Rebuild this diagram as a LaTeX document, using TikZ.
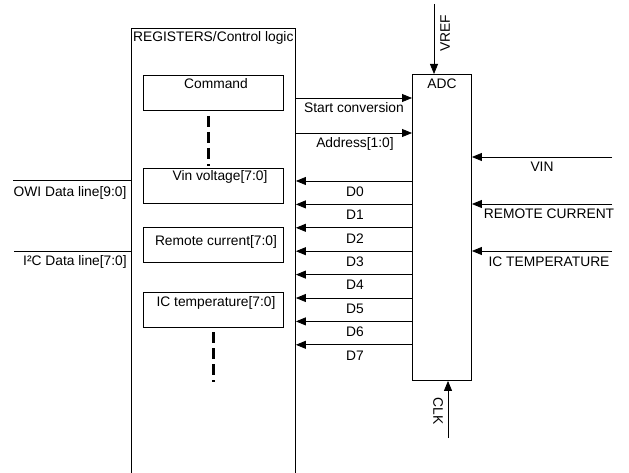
\documentclass[tikz,border=0pt]{standalone}
\usepackage{fontspec}
\setmainfont{Liberation Sans}
\usetikzlibrary{arrows.meta}
\begin{document}
\begin{tikzpicture}[x=1pt,y=-1pt,
  lbl/.style={inner sep=0pt, font=\fontsize{13.8}{15}\selectfont},
  box/.style={draw, line width=0.9pt, inner sep=0pt, anchor=north west},
  arr/.style={line width=0.8pt, -{Triangle[length=10pt,width=8pt]}},
  dashbar/.style={line width=3pt, dash pattern=on 11pt off 5pt},
  wire/.style={line width=0.8pt}]
\useasboundingbox (0,0) rectangle (629,473);
% main register block
\node[box, minimum width=164pt, minimum height=470pt] (main) at (131,28) {};
\node[lbl, anchor=west] (mainlbl) at (133,38) {REGISTERS/Control logic};
% inner register boxes
\node[box, minimum width=140pt, minimum height=35pt] (cmd) at (143,75) {};
\node[lbl] (cmdlbl) at (216,84) {Command};
\node[box, minimum width=140pt, minimum height=35pt] (vin) at (143,168) {};
\node[lbl] (vinlbl) at (220,177) {Vin voltage[7:0]};
\node[box, minimum width=140pt, minimum height=35pt] (rem) at (143,227) {};
\node[lbl] (remlbl) at (216,242) {Remote current[7:0]};
\node[box, minimum width=140pt, minimum height=35pt] (ict) at (143,292) {};
\node[lbl] (ictlbl) at (216,303) {IC temperature[7:0]};
% dashed continuation marks
\coordinate (d1a) at (208,116); \coordinate (d1b) at (208,166);
\draw[dashbar] (d1a) -- (d1b);
\coordinate (d2a) at (213,332); \coordinate (d2b) at (213,382);
\draw[dashbar] (d2a) -- (d2b);
% ADC
\node[box, minimum width=59pt, minimum height=306pt] (adc) at (412,74) {};
\node[lbl] (adclbl) at (442,84) {ADC};
% VREF
\coordinate (vreft) at (434,4);
\draw[arr] (vreft) -- (vreft |- adc.north);
\node[lbl, rotate=90] (vreflbl) at (445,33) {VREF};
% CLK
\coordinate (clkb) at (448,438);
\draw[arr] (clkb) -- (clkb |- adc.south);
\node[lbl, rotate=-90] (clklbl) at (438,411) {CLK};
% left bus lines
\coordinate (owi) at (13,180);
\draw[wire] (owi) -- (owi -| main.west);
\node[lbl] (owilbl) at (70,193) {OWI Data line[9:0]};
\coordinate (i2c) at (14,251);
\draw[wire] (i2c) -- (i2c -| main.west);
\node[lbl] (i2clbl) at (75,262) {I²C Data line[7:0]};
% control to ADC
\coordinate (sc) at (main.east |- 0,98);
\draw[arr] (sc) -- (sc -| adc.west);
\node[lbl] (sclbl) at (354,108) {Start conversion};
\coordinate (ad) at (main.east |- 0,133);
\draw[arr] (ad) -- (ad -| adc.west);
\node[lbl] (adlbl) at (355,144) {Address[1:0]};
% data lines
\foreach \i/\yy in {0/181,1/204.4,2/227.8,3/251.2,4/274.6,5/298,6/321.4,7/344.8}{
  \coordinate (dd\i) at (adc.west |- 0,\yy);
  \draw[arr] (dd\i) -- (dd\i -| main.east);
  \node[lbl] (dl\i) at (355,\yy+10.5) {D\i};
}
% right inputs
\coordinate (vinr) at (612,157);
\draw[arr] (vinr) -- (vinr -| adc.east);
\node[lbl] (vinrlbl) at (542,167) {VIN};
\coordinate (remr) at (612,204);
\draw[arr] (remr) -- (remr -| adc.east);
\node[lbl] (remrlbl) at (549,214) {REMOTE CURRENT};
\coordinate (ictr) at (612,251);
\draw[arr] (ictr) -- (ictr -| adc.east);
\node[lbl] (ictrlbl) at (549,262) {IC TEMPERATURE};
\end{tikzpicture}
\end{document}
